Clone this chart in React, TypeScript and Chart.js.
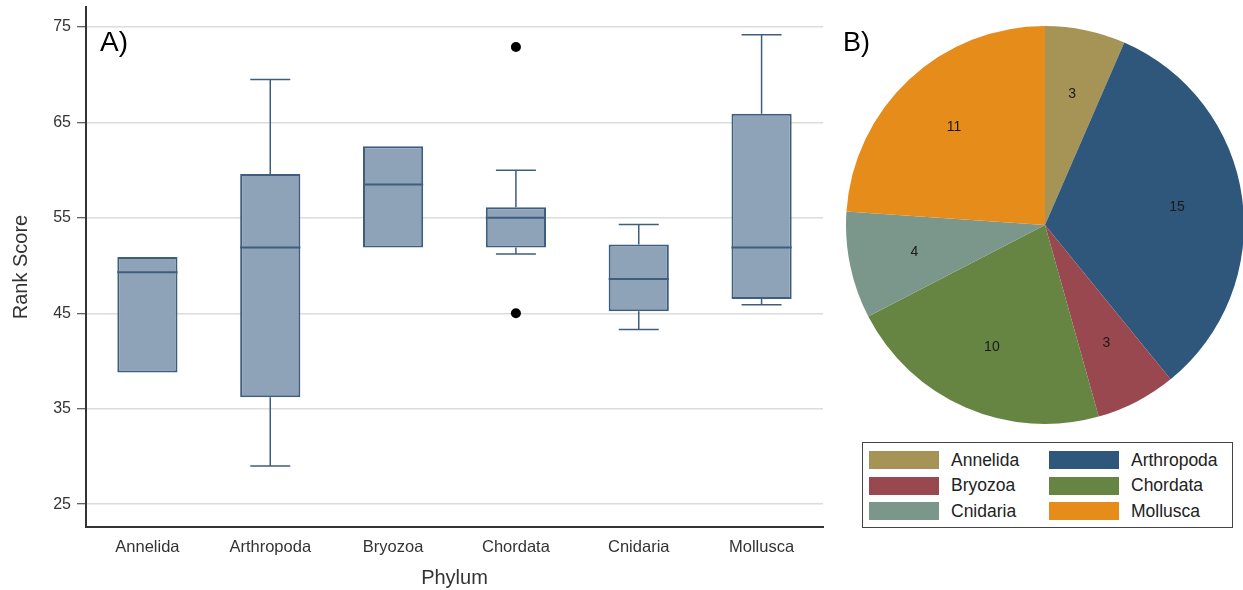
import React, { useEffect, useRef } from "react";
import { Chart, registerables } from "chart.js";

Chart.register(...registerables);

// ---- Data ----
const categories = ["Annelida", "Arthropoda", "Bryozoa", "Chordata", "Cnidaria", "Mollusca"];
const whiskerLow = [38.8, 29.0, 51.9, 51.2, 43.3, 45.9];
const q1 = [38.8, 36.2, 51.9, 51.9, 45.2, 46.5];
const medians = [49.3, 51.9, 58.5, 55.0, 48.6, 51.9];
const q3 = [50.9, 59.6, 62.5, 56.1, 52.2, 65.9];
const whiskerHigh = [50.9, 69.5, 62.5, 60.0, 54.3, 74.2];
const outlierCats = ["Chordata", "Chordata"];
const outlierValues = [72.9, 45.0];
const yTicks = [25, 35, 45, 55, 65, 75];

const pieCounts = [3, 15, 3, 10, 4, 11];
const pieColors = ["#A69456", "#2F577B", "#9A4850", "#668442", "#7B978C", "#E68C1A"];

const FONT = "'Liberation Sans', Arial, sans-serif";
const BOX_FILL = "rgb(142,163,184)";
const BOX_LINE = "rgb(62,94,127)";

const boxPlugin = {
  id: "boxExtras",
  afterDatasetsDraw(chart: any) {
    const { ctx, scales } = chart;
    const x = scales.x;
    const y = scales.y;
    const meta = chart.getDatasetMeta(0);
    ctx.save();
    categories.forEach((_, i) => {
      const bar = meta.data[i];
      const cx = x.getPixelForValue(i);
      const half = bar.width / 2;
      const capHalf = 20;
      ctx.strokeStyle = BOX_LINE;
      ctx.lineWidth = 1.5;
      const yq1 = y.getPixelForValue(q1[i]);
      const yq3 = y.getPixelForValue(q3[i]);
      const ylo = y.getPixelForValue(whiskerLow[i]);
      const yhi = y.getPixelForValue(whiskerHigh[i]);
      if (whiskerHigh[i] > q3[i]) {
        ctx.beginPath();
        ctx.moveTo(cx, yq3);
        ctx.lineTo(cx, yhi);
        ctx.moveTo(cx - capHalf, yhi);
        ctx.lineTo(cx + capHalf, yhi);
        ctx.stroke();
      }
      if (whiskerLow[i] < q1[i]) {
        ctx.beginPath();
        ctx.moveTo(cx, yq1);
        ctx.lineTo(cx, ylo);
        ctx.moveTo(cx - capHalf, ylo);
        ctx.lineTo(cx + capHalf, ylo);
        ctx.stroke();
      }
      const ym = y.getPixelForValue(medians[i]);
      ctx.lineWidth = 2;
      ctx.beginPath();
      ctx.moveTo(cx - half, ym);
      ctx.lineTo(cx + half, ym);
      ctx.stroke();
    });
    ctx.restore();
  },
};

const pieLabelPlugin = {
  id: "pieLabels",
  afterDatasetsDraw(chart: any) {
    const { ctx } = chart;
    const meta = chart.getDatasetMeta(0);
    ctx.save();
    ctx.font = `14px ${FONT}`;
    ctx.fillStyle = "#1a1a1a";
    ctx.textAlign = "center";
    ctx.textBaseline = "middle";
    meta.data.forEach((arc: any, i: number) => {
      const p = arc.getProps(["x", "y", "startAngle", "endAngle", "outerRadius"], true);
      const mid = (p.startAngle + p.endAngle) / 2;
      const r = p.outerRadius * 0.67;
      ctx.fillText(String(pieCounts[i]), p.x + Math.cos(mid) * r, p.y + Math.sin(mid) * r);
    });
    ctx.restore();
  },
};

export default function App() {
  const boxRef = useRef<HTMLCanvasElement>(null);
  const pieRef = useRef<HTMLCanvasElement>(null);

  useEffect(() => {
    const boxChart = new Chart(boxRef.current!, {
      type: "bar",
      data: {
        labels: categories,
        datasets: [
          {
            type: "bar",
            data: categories.map((_, i) => [q1[i], q3[i]]) as any,
            backgroundColor: BOX_FILL,
            borderColor: BOX_LINE,
            borderWidth: 2,
            borderSkipped: false,
            categoryPercentage: 1,
            barPercentage: 0.49,
          },
          {
            type: "line",
            data: outlierCats.map((c, i) => ({ x: c, y: outlierValues[i] })) as any,
            showLine: false,
            pointRadius: 5,
            pointBackgroundColor: "#000",
            pointBorderColor: "#000",
            pointBorderWidth: 0,
          } as any,
        ],
      },
      options: {
        animation: false,
        responsive: false,
        devicePixelRatio: 1,
        layout: { padding: { top: 7, right: 17, left: 0, bottom: 0 } },
        plugins: { legend: { display: false }, tooltip: { enabled: false } },
        scales: {
          x: {
            grid: { display: false, drawTicks: false },
            border: { display: true, color: "#333", width: 2 },
            ticks: { color: "#333", font: { family: FONT, size: 16.5 }, padding: 11 },
            title: {
              display: true,
              text: "Phylum",
              color: "#333",
              font: { family: FONT, size: 20 },
              padding: 0,
            },
            afterFit: (s: any) => {
              s.height = 63;
              s.paddingLeft = 0;
              s.paddingRight = 0;
            },
          },
          y: {
            min: 22.6,
            max: 77.1,
            afterBuildTicks: (s: any) => {
              s.ticks = yTicks.map((v) => ({ value: v }));
            },
            grid: { color: "#dcdcdc", lineWidth: 1.5, tickColor: "#333", tickLength: 9, tickWidth: 1 },
            border: { display: true, color: "#333", width: 2 },
            ticks: { color: "#333", font: { family: FONT, size: 16 }, padding: 6 },
            title: {
              display: true,
              text: "Rank Score",
              color: "#333",
              font: { family: FONT, size: 20 },
              padding: { top: 9, bottom: 0 },
            },
            afterFit: (s: any) => {
              s.width = 86;
              s.paddingTop = 0;
              s.paddingBottom = 0;
            },
          },
        },
      },
      plugins: [boxPlugin],
    });

    const pieChart = new Chart(pieRef.current!, {
      type: "pie",
      data: {
        labels: categories,
        datasets: [
          {
            data: pieCounts,
            backgroundColor: pieColors,
            borderWidth: 0,
          },
        ],
      },
      options: {
        animation: false,
        responsive: false,
        devicePixelRatio: 1,
        layout: { padding: 0 },
        plugins: { legend: { display: false }, tooltip: { enabled: false } },
      },
      plugins: [pieLabelPlugin],
    });

    return () => {
      boxChart.destroy();
      pieChart.destroy();
    };
  }, []);

  const legendRows = [0, 2, 4];

  return (
    <div
      style={{
        position: "fixed",
        left: 0,
        top: 0,
        width: 1243,
        height: 590,
        background: "#fff",
        overflow: "hidden",
        fontFamily: FONT,
      }}
    >
      <canvas ref={boxRef} width={840} height={590} style={{ position: "absolute", left: 0, top: 0 }} />
      <canvas ref={pieRef} width={398} height={400} style={{ position: "absolute", left: 846, top: 25 }} />
      <div style={{ position: "absolute", left: 100, top: 26, fontSize: 28, color: "#000", lineHeight: "32px" }}>A)</div>
      <div style={{ position: "absolute", left: 843, top: 26, fontSize: 27, color: "#000", lineHeight: "32px" }}>B)</div>
      <div
        style={{
          position: "absolute",
          left: 862,
          top: 442,
          width: 369,
          height: 84,
          border: "1px solid #444",
          background: "#fff",
        }}
      >
        {legendRows.map((start, r) => (
          <React.Fragment key={r}>
            {[start, start + 1].map((idx, c) => (
              <div
                key={idx}
                style={{
                  position: "absolute",
                  left: c === 0 ? 6 : 186,
                  top: 8 + r * 25.7,
                  height: 18,
                  display: "flex",
                  alignItems: "center",
                }}
              >
                <div style={{ width: 70, height: 18, background: pieColors[idx] }} />
                <span style={{ marginLeft: 12, fontSize: 17.5, color: "#222", whiteSpace: "nowrap" }}>
                  {categories[idx]}
                </span>
              </div>
            ))}
          </React.Fragment>
        ))}
      </div>
    </div>
  );
}
